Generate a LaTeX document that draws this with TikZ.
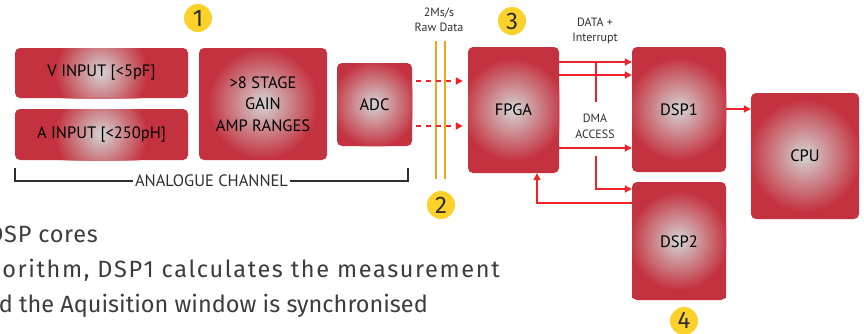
\documentclass[tikz,border=0pt]{standalone}
\usepackage{fontspec}
\setmainfont{PT Sans}
\newfontfamily\bodyfont{Fira Sans}
\newfontfamily\bodyfontmid[LetterSpace=3]{Fira Sans}
\newfontfamily\bodyfontwide[LetterSpace=7]{Fira Sans}
\newfontfamily\badgefont{Fira Sans}
\usetikzlibrary{arrows.meta}
\definecolor{boxred}{HTML}{C4323F}
\definecolor{glowc}{HTML}{D4CCCC}
\definecolor{arrred}{HTML}{EE2229}
\definecolor{wireorange}{HTML}{F5A31A}
\definecolor{badgeyellow}{HTML}{FCD12A}
\definecolor{inkgray}{HTML}{2E2E2E}
\definecolor{bodygray}{HTML}{3C3C3C}
\def\glowr{44}
\begin{document}
\begin{tikzpicture}[x=1pt,y=-1pt,
  glowr/.code={\def\glowr{#1}},
  blk/.style={fill=boxred, rounded corners=5pt, inner sep=0pt, align=center,
    font=\fontsize{16.5}{21.7}\selectfont, text=black,
    path picture={
      \foreach \k in {0,...,29}{
        \pgfmathtruncatemacro\pct{100-100*\k/29}
        \pgfmathsetmacro\rr{\glowr*(1-\k/31)}
        \fill[boxred!\pct!glowc] (path picture bounding box.center) circle[radius=\rr pt];
      }}},
  badgedisc/.style={fill=badgeyellow},
  badgenum/.style={inner sep=0pt, font=\badgefont\fontsize{24}{24}\selectfont, text=inkgray},
  lbl/.style={font=\fontsize{12}{15.5}\selectfont, text=inkgray, align=center, inner sep=0pt},
  arr/.style={draw=arrred, line width=2pt, -{Triangle[length=7pt,width=7pt]}},
  wire/.style={draw=arrred, line width=2pt},
  dasharr/.style={arr, dash pattern=on 5pt off 5pt},
  orangewire/.style={draw=wireorange, line width=2pt},
  bracketline/.style={draw=inkgray, line width=2pt},
  bodytext/.style={anchor=base east, inner sep=0pt, text=bodygray, font=\bodyfont\fontsize{23.5}{27}\selectfont}]
\useasboundingbox (0,0) rectangle (864,333);

% boxes
\node[blk, glowr=47, minimum width=173pt, minimum height=50pt] (vin) at (101.5,73) {V INPUT [<5pF]};
\node[blk, glowr=47, minimum width=173pt, minimum height=51pt] (ain) at (101.5,134.5) {A INPUT [<250pH]};
\node[blk, glowr=56, minimum width=128pt, minimum height=112pt] (gain) at (263,104) {>8 STAGE\\GAIN\\AMP RANGES};
\node[blk, glowr=44, minimum width=75pt, minimum height=83pt] (adc) at (374.5,104.5) {ADC};
\node[blk, glowr=52, minimum width=91pt, minimum height=126pt] (fpga) at (513.5,110) {FPGA};
\node[blk, glowr=52, minimum width=94pt, minimum height=125pt] (dsp1) at (679,109.5) {DSP1};
\node[blk, glowr=57, minimum width=108pt, minimum height=126pt] (cpu) at (805,156) {CPU};
\node[blk, glowr=50, minimum width=94pt, minimum height=118pt] (dsp2) at (679,241) {};
\fill[boxred] (632,292) rectangle (726,298);
\node[font=\fontsize{16.5}{20}\selectfont, text=black] (dsp2lbl) at (679,242) {DSP2};

% badges
\fill[badgedisc] (198,18) circle[radius=14pt];
\node[badgenum] (b1) at (198,18) {1};
\fill[badgedisc] (441,205) circle[radius=14pt];
\node[badgenum] (b2) at (441,205) {2};
\fill[badgedisc] (512,21) circle[radius=14pt];
\node[badgenum] (b3) at (512,21) {3};
\fill[badgedisc] (684,321) circle[radius=14pt];
\node[badgenum] (b4) at (684,320) {4};

% bus lines
\draw[orangewire] (436,41) -- (436,179);
\draw[orangewire] (445,41) -- (445,179);

% labels
\node[lbl] (rate) at (439,20) {2Ms/s\\Raw Data};
\node[lbl] (dataint) at (595,31) {DATA +\\Interrupt};
\node[lbl] (dma) at (595,126.5) {DMA\\ACCESS};

% connectors
\draw[dasharr, shorten <=4pt, shorten >=5pt] (adc.east |- 0,81) -- (fpga.west |- 0,81);
\draw[dasharr, shorten <=4pt, shorten >=5pt] (adc.east |- 0,126) -- (fpga.west |- 0,126);
\draw[arr] (fpga.east |- 0,62) -- (dsp1.west |- 0,62);
\draw[arr] (fpga.east |- 0,75) -- (dsp1.west |- 0,75);
\draw[arr] (fpga.east |- 0,148) -- (dsp1.west |- 0,148);
\coordinate (taptop) at (596,62);
\coordinate (tapbot) at (596,102);
\draw[wire] (taptop) -- (tapbot);
\coordinate (dmastart) at (596,156);
\draw[arr] (dmastart) |- (dsp2.west |- 0,189);
\draw[arr] (dsp2.west |- 0,203) -| ([xshift=23.5pt]fpga.south);
\draw[arr] (dsp1.east |- 0,109) -- (cpu.west |- 0,109);

% analogue channel bracket
\node[font=\fontsize{16.5}{20}\selectfont, text=inkgray, inner sep=1.5pt] (chan) at (211.5,181) {ANALOGUE CHANNEL};
\draw[bracketline] (15,168) -- (15,181) -- (chan.west);
\draw[bracketline] (chan.east) -- (408,181) -- (408,168);

% body text (cut at left edge)
\begin{scope}
\clip (0,0) rectangle (864,333);
\node[bodytext, font=\bodyfontmid\fontsize{23.5}{27}\selectfont] (t1) at (98,242) {DSP cores};
\node[bodytext, font=\bodyfontwide\fontsize{23.5}{27}\selectfont] (t2) at (500,277) {orithm, DSP1 calculates the measurement};
\node[bodytext] (t3) at (428,312) {d the Aquisition window is synchronised};
\end{scope}
\end{tikzpicture}
\end{document}
